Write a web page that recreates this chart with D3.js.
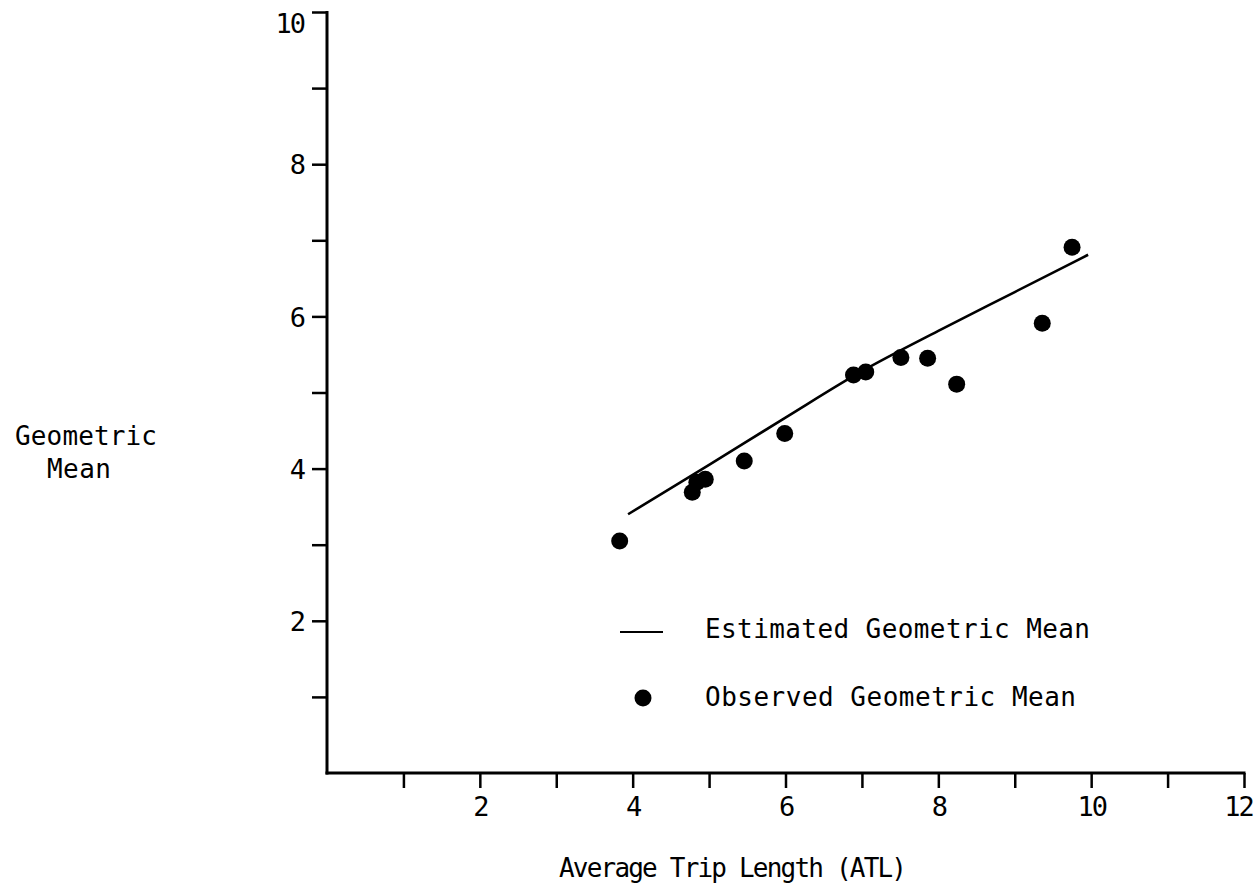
<!DOCTYPE html>
<html>
<head>
<meta charset="utf-8">
<script src="https://cdn.jsdelivr.net/npm/d3@7"></script>
<style>
  html, body { margin: 0; padding: 0; background: #fff; }
  svg { display: block; }
  text { font-family: "DejaVu Sans Mono", "Liberation Mono", monospace; fill: #000; }
</style>
</head>
<body>
<svg id="chart" width="1258" height="891"></svg>
<script>
// ---- data ----
const xTickValues = [1, 2, 3, 4, 5, 6, 7, 8, 9, 10, 11, 12];
const xTickLabels = ["", "2", "", "4", "", "6", "", "8", "", "10", "", "12"];
const yTickValues = [1, 2, 3, 4, 5, 6, 7, 8, 9, 10];
const yTickLabels = ["", "2", "", "4", "", "6", "", "8", "", "10"];

// Observed geometric mean (ATL, geometric mean)
const obsATL  = [3.83, 4.78, 4.84, 4.95, 5.46, 5.99, 6.89, 7.05, 7.51, 7.86, 8.24, 9.36, 9.75];
const obsMean = [3.05, 3.69, 3.82, 3.86, 4.10, 4.46, 5.23, 5.27, 5.46, 5.45, 5.11, 5.91, 6.91];

// Estimated geometric mean curve
const estATL  = [3.94, 5.0, 6.0, 7.0, 8.0, 9.0, 9.96];
const estMean = [3.40, 4.05, 4.67, 5.28, 5.81, 6.32, 6.81];

const yTitle = ["Geometric", "Mean"];
const xTitle = "Average Trip Length (ATL)";
const legendLabels = ["Estimated Geometric Mean", "Observed Geometric Mean"];

// ---- drawing ----
const svg = d3.select("#chart");
const x = d3.scaleLinear().domain([0, 12]).range([327, 1244]);
const y = d3.scaleLinear().domain([0, 10]).range([773, 12]);

// X axis
const xAxis = d3.axisBottom(x)
  .tickValues(xTickValues)
  .tickFormat((d, i) => xTickLabels[i])
  .tickSizeInner(15).tickSizeOuter(0).tickPadding(9);
const gx = svg.append("g").attr("transform", `translate(0,${y(0)})`).call(xAxis);
gx.select(".domain").attr("stroke", "#000").attr("stroke-width", 3)
  .attr("d", `M${x(0) - 1.5},0H${x(12) + 1.5}`);
gx.selectAll(".tick line").attr("stroke", "#000").attr("stroke-width", 2.5);
gx.selectAll(".tick text").attr("font-size", 27).attr("letter-spacing", -2)
  .attr("font-family", "DejaVu Sans Mono").attr("fill", "#000")
  .attr("dx", d => d === 12 ? -6 : 0);

// Y axis
const yAxis = d3.axisLeft(y)
  .tickValues(yTickValues)
  .tickFormat((d, i) => yTickLabels[i])
  .tickSizeInner(15).tickSizeOuter(0).tickPadding(8);
const gy = svg.append("g").attr("transform", `translate(${x(0)},0)`).call(yAxis);
gy.select(".domain").attr("stroke", "#000").attr("stroke-width", 3)
  .attr("d", `M0,${y(10) - 1}V${y(0) + 1.5}`);
gy.selectAll(".tick line").attr("stroke", "#000").attr("stroke-width", 2.5);
gy.selectAll(".tick text").attr("font-size", 27).attr("letter-spacing", -2)
  .attr("font-family", "DejaVu Sans Mono").attr("fill", "#000")
  .attr("dy", d => d === 10 ? "0.75em" : "0.36em");

// Estimated curve
const estData = estATL.map((v, i) => [v, estMean[i]]);
svg.append("path")
  .datum(estData)
  .attr("fill", "none")
  .attr("stroke", "#000")
  .attr("stroke-width", 2.6)
  .attr("d", d3.line().x(d => x(d[0])).y(d => y(d[1])).curve(d3.curveMonotoneX));

// Observed points
const obsData = obsATL.map((v, i) => [v, obsMean[i]]);
svg.append("g").selectAll("circle")
  .data(obsData)
  .join("circle")
  .attr("cx", d => x(d[0]))
  .attr("cy", d => y(d[1]))
  .attr("r", 8.5)
  .attr("fill", "#000");

// Y title
svg.append("text").attr("x", 15).attr("y", 445).attr("font-size", 26)
  .attr("textLength", 142).attr("lengthAdjust", "spacing").text(yTitle[0]);
svg.append("text").attr("x", 47).attr("y", 478).attr("font-size", 26)
  .attr("textLength", 64).attr("lengthAdjust", "spacing").text(yTitle[1]);

// X title
svg.append("text").attr("x", 559).attr("y", 877).attr("font-size", 26)
  .attr("textLength", 348).attr("lengthAdjust", "spacing").text(xTitle);

// Legend
svg.append("line").attr("x1", 620).attr("x2", 663).attr("y1", 632).attr("y2", 632)
  .attr("stroke", "#000").attr("stroke-width", 2.2);
svg.append("text").attr("x", 705).attr("y", 638).attr("font-size", 26)
  .attr("textLength", 385).attr("lengthAdjust", "spacing").text(legendLabels[0]);
svg.append("circle").attr("cx", 643).attr("cy", 698).attr("r", 8.5).attr("fill", "#000");
svg.append("text").attr("x", 705).attr("y", 706).attr("font-size", 26)
  .attr("textLength", 371).attr("lengthAdjust", "spacing").text(legendLabels[1]);
</script>
</body>
</html>
